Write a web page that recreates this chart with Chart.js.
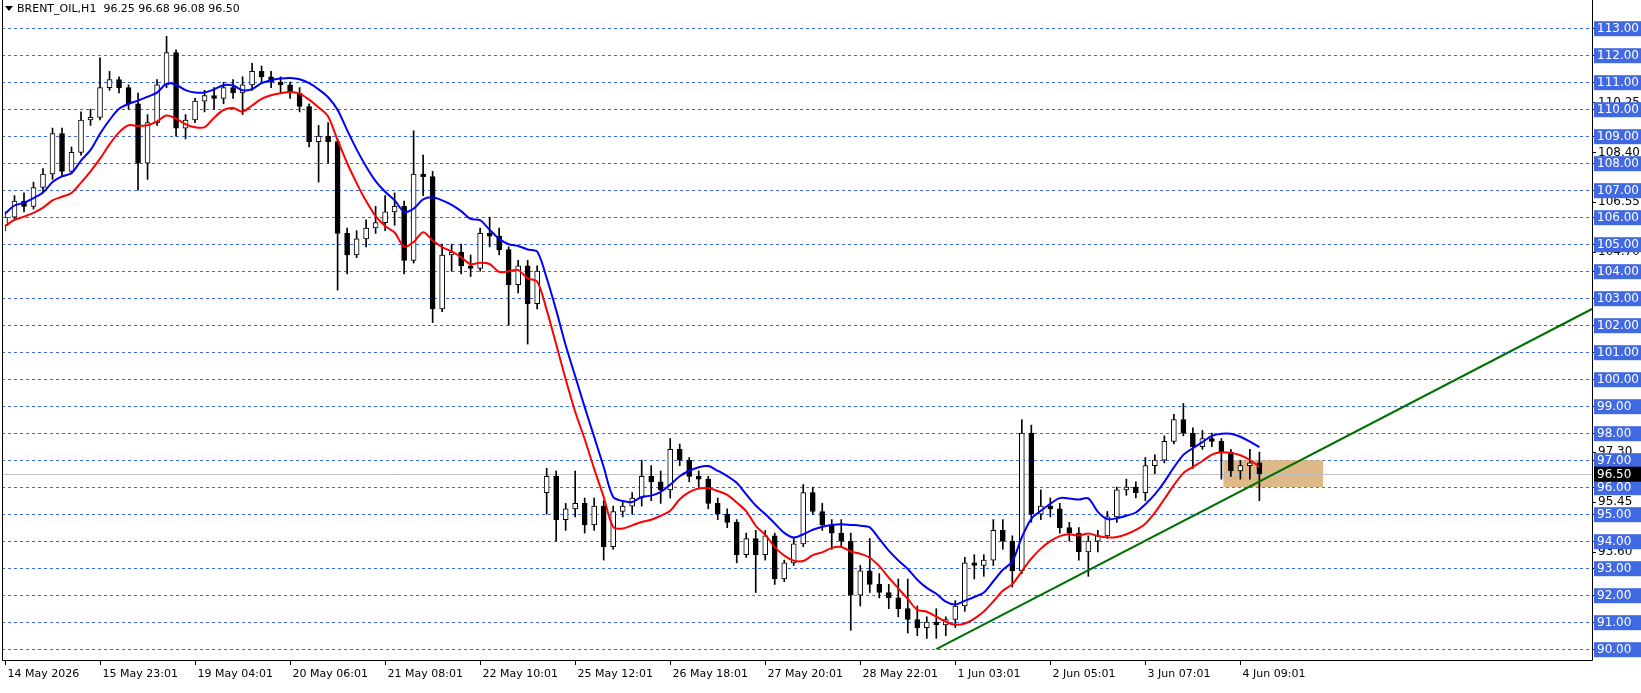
<!DOCTYPE html>
<html>
<head>
<meta charset="utf-8">
<script src="https://cdn.jsdelivr.net/npm/chart.js@4.4.1/dist/chart.umd.min.js"></script>
<style>
  body { margin: 0; background: #fff; }
  #wrap { width: 1641px; height: 693px; position: relative; }
</style>
</head>
<body>
<div id="wrap"><canvas id="c" width="1641" height="693"></canvas></div>
<script>
// BRENT_OIL H1 candles, grouped into ~2.4h slots
const opens  = [105.7,106.0,106.6,106.4,107.1,107.6,109.1,107.7,108.4,109.6,109.7,110.8,111.1,110.8,110.2,108.0,109.5,110.9,112.1,109.3,
  109.6,110.3,110.5,110.4,110.8,110.6,110.9,111.4,111.2,111.0,110.9,110.6,110.1,108.8,109.0,108.8,105.4,104.6,105.2,105.6,
  105.8,106.2,106.4,104.4,107.6,107.5,102.6,104.6,104.7,104.2,104.1,105.4,105.3,104.8,103.5,104.2,102.8,95.8,96.4,94.8,
  95.2,95.4,94.6,95.3,93.8,95.1,95.3,95.6,96.4,96.2,95.9,97.4,97.0,96.4,96.3,95.4,95.0,94.7,93.5,94.1,
  93.5,94.2,92.6,93.2,93.9,95.8,95.1,94.6,94.3,94.0,92.0,92.9,92.4,92.1,91.9,91.5,91.1,90.8,91.0,90.9,
  91.1,91.6,93.2,93.1,93.3,94.4,94.0,92.9,98.0,95.0,95.3,95.2,94.5,94.3,93.6,94.0,94.2,94.9,95.9,96.0,
  95.8,96.8,97.0,97.7,98.5,98.0,97.5,97.8,97.7,97.3,96.6,96.8,96.9];
const highs  = [106.2,106.8,106.9,107.3,107.8,109.3,109.3,108.6,109.9,110.0,111.9,111.4,111.2,110.9,110.6,109.8,111.1,112.7,112.2,109.8,
  110.4,110.7,110.8,111.0,111.1,111.2,111.7,111.6,111.4,111.2,111.0,110.8,110.2,109.4,109.5,108.9,105.6,105.5,105.9,106.4,
  106.8,106.9,106.6,109.2,108.3,107.7,105.0,105.0,105.0,104.6,105.6,106.0,105.6,104.9,104.4,104.4,104.2,96.7,96.6,95.4,
  96.6,95.6,95.6,95.5,95.3,95.5,95.8,97.0,96.8,96.6,97.8,97.6,97.1,96.6,96.4,95.6,95.2,94.8,94.3,94.4,
  94.4,94.3,93.3,94.1,96.1,96.0,95.4,94.8,94.8,94.3,93.1,94.1,92.8,92.4,92.6,92.6,91.6,91.2,91.5,91.2,
  91.8,93.4,93.5,93.5,94.8,94.8,94.2,98.5,98.3,95.9,95.6,95.4,94.7,94.5,94.2,94.4,95.1,96.0,96.3,96.2,
  97.1,97.2,97.9,98.7,99.1,98.2,98.1,98.0,97.8,97.4,97.0,97.4,97.3];
const lows   = [105.5,105.9,106.2,106.3,106.9,107.4,107.5,107.6,108.3,109.4,109.6,110.7,110.6,110.0,107.0,107.4,109.4,110.8,109.0,108.9,
  109.5,109.9,110.0,110.2,110.4,109.8,110.7,111.0,110.8,110.6,110.4,109.9,108.6,107.3,108.0,103.3,103.9,104.5,104.9,105.4,
  105.5,105.7,103.9,104.3,106.8,102.1,102.5,104.0,103.9,103.8,104.0,104.9,104.6,102.0,103.2,101.3,102.6,95.0,94.0,94.4,
  94.9,94.3,94.4,93.3,93.7,94.9,95.0,95.3,95.5,95.4,95.6,96.8,96.2,96.0,95.2,94.8,94.5,93.2,93.4,92.1,
  93.3,92.4,92.5,93.1,93.8,95.0,94.4,93.7,93.8,90.7,91.6,92.1,91.9,91.5,91.2,90.6,90.5,90.4,90.4,90.5,
  90.8,91.4,92.6,92.7,93.1,93.7,92.3,92.8,94.7,94.8,94.9,94.3,94.0,93.3,92.7,93.6,94.1,94.7,95.7,95.6,
  95.5,96.5,96.9,97.6,97.9,96.7,97.4,97.5,96.3,96.4,96.3,96.3,95.5];
const closes = [106.0,106.6,106.4,107.1,107.6,109.1,107.7,108.4,109.6,109.7,110.8,111.1,110.8,110.2,108.0,109.5,110.9,112.1,109.3,109.6,
  110.3,110.5,110.4,110.8,110.6,110.9,111.4,111.2,111.0,110.9,110.6,110.1,108.8,109.0,108.8,105.4,104.6,105.2,105.6,105.8,
  106.2,106.4,104.4,107.6,107.5,102.6,104.6,104.7,104.2,104.1,105.4,105.3,104.8,103.5,104.2,102.8,104.0,96.4,94.8,95.2,
  95.4,94.6,95.3,93.8,95.1,95.3,95.6,96.4,96.2,95.9,97.4,97.0,96.4,96.3,95.4,95.0,94.7,93.5,94.1,93.5,
  94.2,92.6,93.2,93.9,95.8,95.1,94.6,94.3,94.0,92.0,92.9,92.4,92.1,91.9,91.5,91.1,90.8,91.0,90.9,91.1,
  91.6,93.2,93.1,93.3,94.4,94.0,92.9,98.0,95.0,95.3,95.2,94.5,94.3,93.6,94.0,94.2,94.9,95.9,96.0,95.8,
  96.8,97.0,97.7,98.5,98.0,97.5,97.8,97.7,97.3,96.6,96.8,96.9,96.5];

const timeLabels = ['14 May 2026','15 May 23:01','19 May 04:01','20 May 06:01','21 May 08:01','22 May 10:01','25 May 12:01',
  '26 May 18:01','27 May 20:01','28 May 22:01','1 Jun 03:01','2 Jun 05:01','3 Jun 07:01','4 Jun 09:01'];
const labelEvery = 10;
const totalSlots = 168;

const priceTicks = [90,91,92,93,94,95,96,97,98,99,100,101,102,103,104,105,106,107,108,109,110,111,112,113];
const levelMarks = [110.25,108.40,106.55,104.70,97.30,95.45,93.60];
const lastPrice = 96.50;

// support trend line (slot index, price)
const trendIdx = [98,167];
const trendVal = [90.0,102.6];
// zone box
const zoneIdx = [128.2,138.7];
const zoneVal = [96.0,97.0];

const maPeriod = 8;
function sma(src) {
  return src.map((_, i) => {
    const s = src.slice(Math.max(0, i - maPeriod + 1), i + 1);
    return s.reduce((a, b) => a + b, 0) / s.length;
  });
}
const maHigh = sma(highs.map((h, i) => (2 * h + closes[i]) / 3));
const maLow = sma(lows.map((l, i) => (2 * l + closes[i]) / 3));

const labels = [];
for (let i = 0; i < totalSlots; i++) labels.push(i % labelEvery === 0 && i / labelEvery < timeLabels.length ? timeLabels[i / labelEvery] : '');

const trendData = labels.map((_, i) => trendIdx.includes(i) ? trendVal[trendIdx.indexOf(i)] : null);

const FONT = '12px "DejaVu Sans", sans-serif';

const decor = {
  id: 'decor',
  beforeDatasetsDraw(chart) {
    const { ctx, chartArea: a, scales: { x, y } } = chart;
    ctx.save();
    // dashed grid
    ctx.strokeStyle = '#3a66e0';
    ctx.lineWidth = 1;
    ctx.setLineDash([3, 3]);
    priceTicks.forEach(p => {
      const py = Math.round(y.getPixelForValue(p)) + 0.5;
      ctx.beginPath(); ctx.moveTo(2, py); ctx.lineTo(a.right, py); ctx.stroke();
    });
    ctx.setLineDash([]);
    // zone
    const x0 = x.getPixelForValue(zoneIdx[0]), x1 = x.getPixelForValue(zoneIdx[1]);
    const y0 = y.getPixelForValue(zoneVal[1]), y1 = y.getPixelForValue(zoneVal[0]);
    ctx.fillStyle = '#deb887';
    ctx.fillRect(x0, y0, x1 - x0, y1 - y0);
    // last price line
    ctx.strokeStyle = '#c0c0c0';
    const ly = Math.round(y.getPixelForValue(lastPrice)) + 0.5;
    ctx.beginPath(); ctx.moveTo(2, ly); ctx.lineTo(a.right, ly); ctx.stroke();
    ctx.restore();
  },
  afterDraw(chart) {
    const { ctx, chartArea: a, scales: { x, y } } = chart;
    ctx.save();
    // frame
    ctx.strokeStyle = '#000';
    ctx.lineWidth = 1;
    ctx.beginPath();
    ctx.moveTo(2.5, 0); ctx.lineTo(2.5, a.bottom + 0.5);
    ctx.lineTo(a.right + 0.5, a.bottom + 0.5); ctx.lineTo(a.right + 0.5, 0);
    ctx.stroke();
    ctx.font = FONT;
    ctx.textBaseline = 'middle';
    // small level marks
    ctx.fillStyle = '#000';
    ctx.textAlign = 'left';
    levelMarks.forEach(p => {
      const py = y.getPixelForValue(p);
      ctx.fillRect(a.right, Math.round(py), 4, 1);
      ctx.fillText(p.toFixed(2), a.right + 6, py);
    });
    // price boxes
    priceTicks.forEach(p => {
      const py = y.getPixelForValue(p);
      ctx.fillStyle = '#000';
      ctx.fillRect(a.right, Math.round(py), 4, 1);
      ctx.fillStyle = '#4169e1';
      ctx.fillRect(a.right + 2, py - 7, 47, 15);
      ctx.fillStyle = '#fff';
      ctx.fillText(p.toFixed(2), a.right + 5, py + 1);
    });
    const lpy = y.getPixelForValue(lastPrice);
    ctx.fillStyle = '#000';
    ctx.fillRect(a.right + 2, lpy - 7, 47, 15);
    ctx.fillStyle = '#fff';
    ctx.fillText(lastPrice.toFixed(2), a.right + 5, lpy + 1);
    // time labels
    ctx.font = '11px "DejaVu Sans", sans-serif';
    ctx.fillStyle = '#000';
    ctx.textBaseline = 'top';
    labels.forEach((l, i) => {
      if (!l) return;
      const px = Math.round(x.getPixelForValue(i)) + 0.5;
      ctx.beginPath(); ctx.moveTo(px, a.bottom); ctx.lineTo(px, a.bottom + 5); ctx.stroke();
      ctx.fillText(l, px + 2, a.bottom + 9);
    });
    // title
    ctx.textBaseline = 'middle';
    ctx.beginPath(); ctx.moveTo(5, 6); ctx.lineTo(13, 6); ctx.lineTo(9, 11); ctx.closePath(); ctx.fill();
    ctx.fillText('BRENT_OIL,H1  96.25 96.68 96.08 96.50', 17, 9);
    ctx.restore();
  }
};

new Chart(document.getElementById('c'), {
  type: 'bar',
  data: {
    labels: labels,
    datasets: [
      { type: 'line', data: maHigh, borderColor: '#0000ff', borderWidth: 2, pointRadius: 0, tension: 0.3, order: 1 },
      { type: 'line', data: maLow, borderColor: '#ff0000', borderWidth: 2, pointRadius: 0, tension: 0.3, order: 1 },
      { type: 'line', data: trendData, borderColor: '#007000', borderWidth: 2, pointRadius: 0, spanGaps: true, order: 0 },
      { data: lows.map((l, i) => [l, highs[i]]), backgroundColor: '#000', barThickness: 1, grouped: false, order: 3 },
      { data: opens.map((o, i) => [o, closes[i] === o ? o + 0.03 : closes[i]]),
        backgroundColor: opens.map((o, i) => closes[i] >= o ? '#fff' : '#000'),
        borderColor: '#000', borderWidth: 1, borderSkipped: false, barThickness: 5, grouped: false, order: 2 }
    ]
  },
  options: {
    responsive: false,
    devicePixelRatio: 1,
    animation: false,
    layout: { padding: { left: 5, right: 49, top: 12, bottom: 33 } },
    plugins: { legend: { display: false }, tooltip: { enabled: false } },
    scales: {
      x: { display: false, offset: false },
      y: { display: false, min: 89.6, max: 113.6 }
    }
  },
  plugins: [decor]
});
</script>
</body>
</html>
